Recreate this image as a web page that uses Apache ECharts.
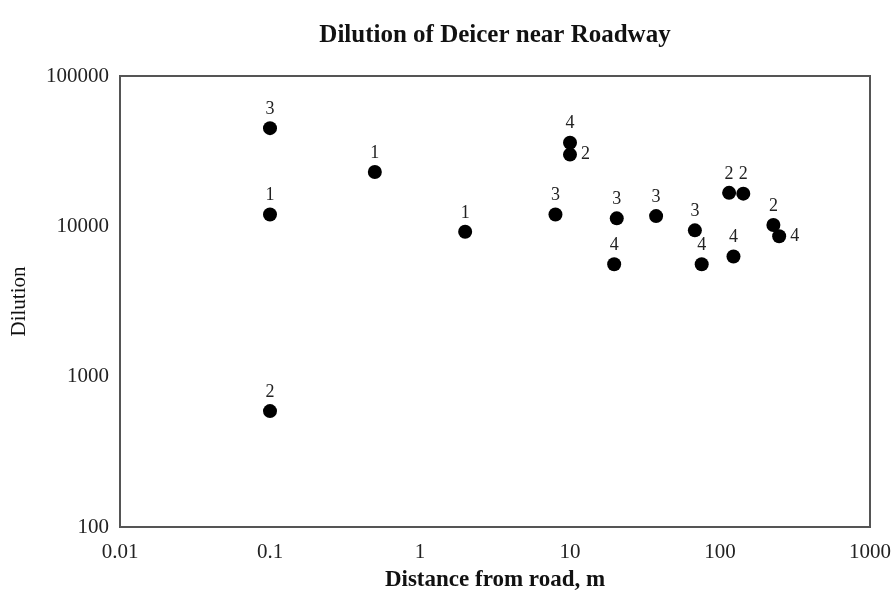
<!DOCTYPE html>
<html>
<head>
<meta charset="utf-8">
<script src="https://cdn.jsdelivr.net/npm/echarts@6/dist/echarts.min.js"></script>
<style>html,body{margin:0;padding:0;background:#fff}#c{width:891px;height:597px}</style>
</head>
<body>
<div id="c"></div>
<script>
// Data: [distance from road (m), dilution], grouped by site label
const site1 = [[0.1, 12000], [0.5, 23000], [2, 9200]];
const site2 = [[0.1, 590], [10, 30000], [115, 16700], [143, 16500], [227, 10200]];
const site3 = [[0.1, 45000], [8, 12000], [20.5, 11300], [37.5, 11700], [68, 9400]];
const site4 = [[10, 36000], [19.7, 5600], [75.5, 5600], [123, 6300], [248, 8600]];
const siteNames = ['1', '2', '3', '4'];
const xTickLabels = ['0.01', '0.1', '1', '10', '100', '1000'];
const yTickLabels = ['100', '1000', '10000', '100000'];
// labels placed to the right of the point instead of above: [site index, point index]
const rightLabels = [[1, 1], [3, 4]];

const FONT = '"Liberation Serif", "DejaVu Serif", serif';
const siteData = [site1, site2, site3, site4];

function fmt(v, list) {
  const s = String(+Number(v).toPrecision(6));
  return list.indexOf(s) >= 0 ? s : '';
}

const series = siteData.map((arr, si) => ({
  name: siteNames[si],
  type: 'scatter',
  symbol: 'circle',
  symbolSize: 14,
  itemStyle: { color: '#000', opacity: 1 },
  label: {
    show: true,
    position: 'top',
    distance: 3,
    formatter: siteNames[si],
    color: '#222',
    fontFamily: FONT,
    fontSize: 18
  },
  data: arr.map((p, pi) => {
    const isRight = rightLabels.some(r => r[0] === si && r[1] === pi);
    const item = { value: p };
    if (isRight) item.label = { position: 'right', distance: 4 };
    return item;
  })
}));

const chart = echarts.init(document.getElementById('c'), null, { renderer: 'canvas' });
chart.setOption({
  backgroundColor: '#fff',
  animation: false,
  title: {
    text: 'Dilution of Deicer near Roadway',
    left: 490,
    textAlign: 'center',
    top: 18,
    textStyle: { fontFamily: FONT, fontWeight: 'bold', fontSize: 25, color: '#111' }
  },
  grid: {
    left: 120, right: 21, top: 76, bottom: 70,
    containLabel: false, outerBoundsMode: 'none',
    show: true, borderColor: '#555', borderWidth: 2, backgroundColor: 'transparent'
  },
  xAxis: {
    type: 'log', logBase: 10, min: 0.01, max: 1000,
    name: 'Distance from road, m',
    nameLocation: 'middle', nameGap: 42,
    nameTextStyle: { fontFamily: FONT, fontWeight: 'bold', fontSize: 23, color: '#111' },
    axisLine: { show: true, lineStyle: { color: '#555', width: 2 } },
    axisTick: { show: false },
    splitLine: { show: false },
    axisLabel: { margin: 15, fontFamily: FONT, fontSize: 21, color: '#222', formatter: v => fmt(v, xTickLabels) }
  },
  yAxis: {
    type: 'log', logBase: 10, min: 100, max: 100000,
    name: 'Dilution',
    nameLocation: 'middle', nameGap: 90,
    nameTextStyle: { fontFamily: FONT, fontSize: 21, color: '#111' },
    axisLine: { show: true, lineStyle: { color: '#555', width: 2 } },
    axisTick: { show: false },
    splitLine: { show: false },
    axisLabel: { margin: 11, fontFamily: FONT, fontSize: 21, color: '#222', formatter: v => fmt(v, yTickLabels) }
  },
  series: series
});
</script>
</body>
</html>
